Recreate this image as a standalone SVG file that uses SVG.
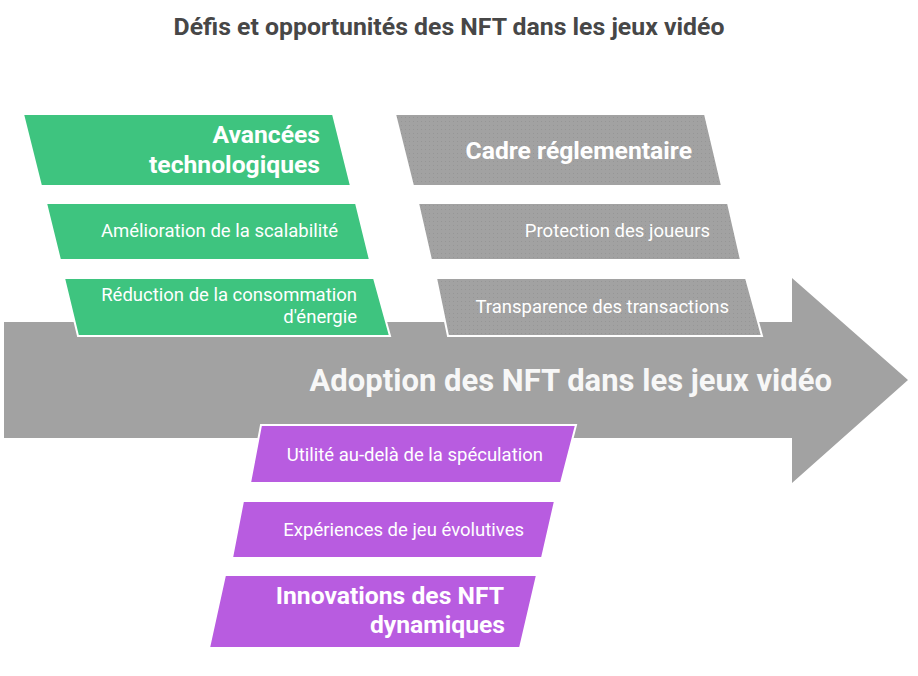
<svg xmlns="http://www.w3.org/2000/svg" width="918" height="676" viewBox="0 0 918 676">
<style>
text{font-family:Roboto,"Liberation Sans",sans-serif;fill:#ffffff}
.title{font-size:24.8px;font-weight:700;fill:#474747}
.h{font-size:24.7px;font-weight:700}
.s{font-size:18.5px}
.main{font-size:31px;font-weight:700;fill:#f7f7f7}
.box{stroke:#ffffff;stroke-width:2}
.g{fill:#3ec47f}
.gr{fill:url(#dots)}
.p{fill:#b85ce0}
</style>
<defs>
<pattern id="dots" width="4" height="4" patternUnits="userSpaceOnUse">
<rect width="4" height="4" fill="#a2a2a2"/>
<rect x="1" y="1" width="1" height="1" fill="#969696"/>
</pattern>
</defs>
<rect width="918" height="676" fill="#ffffff"/>
<text class="title" x="449" y="35" text-anchor="middle">Défis et opportunités des NFT dans les jeux vidéo</text>
<g id="arrow">
<path d="M4,322 H792 V278 L908,380 L792,483 V438 H4 Z" fill="#a2a2a2"/>
<text class="main" x="832" y="391" text-anchor="end">Adoption des NFT dans les jeux vidéo</text>
</g>
<g id="connectors"></g>
<g id="avancees">
<polygon class="box g" points="23,114 333,114 351,186 41,186"/>
<text class="h" text-anchor="end"><tspan x="320" y="143">Avancées</tspan><tspan x="320" y="173">technologiques</tspan></text>
</g>
<g id="scalabilite">
<polygon class="box g" points="46,203 356,203 370,260 60,260"/>
<text class="s" x="338" y="237" text-anchor="end">Amélioration de la scalabilité</text>
</g>
<g id="energie">
<polygon class="box g" points="64,278 374,278 390,336 78,336"/>
<text class="s" text-anchor="end"><tspan x="357" y="301">Réduction de la consommation</tspan><tspan x="357" y="323">d'énergie</tspan></text>
</g>
<g id="cadre">
<polygon class="box gr" points="395,114 705,114 722,186 413,186"/>
<text class="h" x="692" y="159" text-anchor="end">Cadre réglementaire</text>
</g>
<g id="protection">
<polygon class="box gr" points="418,203 728,203 741,260 431,260"/>
<text class="s" x="710" y="237" text-anchor="end">Protection des joueurs</text>
</g>
<g id="transparence">
<polygon class="box gr" points="436,278 746,278 762,336 448,336"/>
<text class="s" x="729" y="313" text-anchor="end">Transparence des transactions</text>
</g>
<g id="utilite">
<polygon class="box p" points="261,425 576,425 561,483 250,483"/>
<text class="s" x="543" y="461" text-anchor="end">Utilité au-delà de la spéculation</text>
</g>
<g id="experiences">
<polygon class="box p" points="243,501 555,501 542,558 232,558"/>
<text class="s" x="524" y="536" text-anchor="end">Expériences de jeu évolutives</text>
</g>
<g id="innovations">
<polygon class="box p" points="225,575 537,575 520,648 209,648"/>
<text class="h" text-anchor="end"><tspan x="504" y="604">Innovations des NFT</tspan><tspan x="505" y="633">dynamiques</tspan></text>
</g>
</svg>
